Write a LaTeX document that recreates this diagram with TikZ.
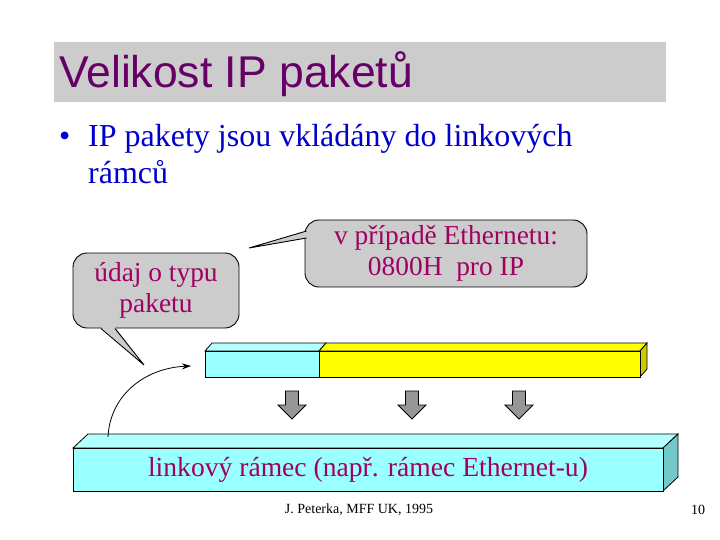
\documentclass[tikz,border=0pt]{standalone}
\usepackage{fontspec}
\setmainfont{Liberation Serif}
\newfontfamily\arialf{Liberation Sans}
\usetikzlibrary{arrows.meta}
\definecolor{titlepurple}{RGB}{102,0,102}
\definecolor{txtmag}{RGB}{160,0,100}
\definecolor{bulblue}{RGB}{0,0,204}
\definecolor{callgray}{RGB}{204,204,204}
\definecolor{cyanf}{RGB}{153,255,255}
\definecolor{cyantop}{RGB}{180,255,255}
\definecolor{cyanside}{RGB}{115,200,200}
\definecolor{yelf}{RGB}{255,255,0}
\definecolor{yelside}{RGB}{204,204,0}
\definecolor{arrgray}{RGB}{150,150,150}
\tikzset{
  calloutbox/.style={draw=black, fill=callgray, rounded corners=14pt, line width=0.9pt, align=center, text=txtmag, font=\fontsize{27.4}{31}\selectfont, inner sep=0pt},
  barface/.style={draw=black, line width=0.8pt, inner sep=0pt},
  downarr/.style={draw=black, fill=arrgray, line width=0.8pt},
  bultext/.style={anchor=base west, inner sep=0pt, text=bulblue, font=\fontsize{32}{36}\selectfont},
}
\begin{document}
\begin{tikzpicture}[x=1pt,y=-1pt]
\useasboundingbox (0,0) rectangle (720,540);
% title band
\fill[callgray] (54,42) rectangle (666,102);
\node[anchor=base west, inner sep=0pt, text=titlepurple, font=\arialf\fontsize{44.5}{48}\selectfont] (title) at (59,88) {Velikost IP paketů};
% bullet
\node[bultext] (bul) at (59,147) {•};
\node[bultext] (btxt) at (88,147) {IP pakety jsou vkládány do linkových};
\node[bultext] (btxt2) at (88,184) {rámců};
% callout: ethernet
\node[calloutbox, minimum width=282pt, minimum height=67pt] (eth) at (446,253.5) {v případě Ethernetu:\\0800H\ \ pro IP};
\coordinate (ethtip) at (249,248);
\fill[callgray] (308,231) -- (ethtip) -- (308,238) -- cycle;
\draw[line width=0.9pt] (306.5,231) -- (ethtip) -- (306.5,238);
% callout: type
\node[calloutbox, minimum width=166pt, minimum height=75pt] (typ) at (156,290.5) {údaj o typu\\paketu};
\coordinate (typtip) at (144,365);
\fill[callgray] (101,327) -- (typtip) -- (115,327) -- cycle;
\draw[line width=0.9pt] (101,328.5) -- (typtip) -- (115,328.5);
% IP packet bar
\fill[cyantop, draw=black, line width=0.8pt] (205,351) -- (212,343) -- (326,343) -- (319,351) -- cycle;
\fill[yelf, draw=black, line width=0.8pt] (319,351) -- (326,343) -- (647,343) -- (640,351) -- cycle;
\fill[yelside, draw=black, line width=0.8pt] (640,351) -- (647,343) -- (647,369) -- (640,377) -- cycle;
\node[barface, fill=cyanf, minimum width=114pt, minimum height=26pt] (hdr) at (262,364) {};
\node[barface, fill=yelf, minimum width=321pt, minimum height=26pt] (data) at (479.5,364) {};
% down arrows
\foreach \cx/\nm in {292/a1,412/a2,519/a3}{
  \draw[downarr] (\cx-6.5,391) -- (\cx+6.5,391) -- (\cx+6.5,405) -- (\cx+14,405) -- (\cx,419) -- (\cx-14,405) -- (\cx-6.5,405) -- cycle;
  \coordinate (\nm) at (\cx,405);
}
% link frame
\fill[cyantop, draw=black, line width=0.8pt] (73,448) -- (88,434) -- (678,434) -- (663,448) -- cycle;
\fill[cyanside, draw=black, line width=0.8pt] (663,448) -- (678,434) -- (678,477) -- (663,491) -- cycle;
\node[barface, fill=cyanf, minimum width=590pt, minimum height=43pt, text=txtmag, font=\fontsize{27.6}{30}\selectfont] (frame) at (368,469.5) {linkový rámec (např. rámec Ethernet-u)};
% curved arrow
\coordinate (cstart) at (108,437);
\coordinate (cend) at (191,366);
\draw[line width=0.8pt, -{Stealth[length=9pt,width=6pt]}] (cstart) .. controls (110,395) and (145,368) .. (cend);
% footer
\node[inner sep=0pt, font=\fontsize{14}{16}\selectfont] (foot) at (359,510) {J. Peterka, MFF UK, 1995};
\node[inner sep=0pt, font=\fontsize{14}{16}\selectfont] (pg) at (698,510) {10};
\end{tikzpicture}
\end{document}
